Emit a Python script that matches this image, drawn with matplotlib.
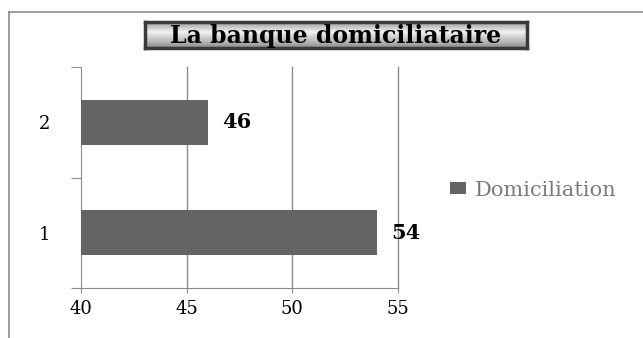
import numpy as np
import matplotlib.pyplot as plt
from matplotlib.lines import Line2D

# données du graphique
categories = ["1", "2"]
domiciliation = [54, 46]
graduations = [40, 45, 50, 55]
titre = "La banque domiciliataire"
serie = "Domiciliation"

gris_barre = "#646464"
gris_trait = "#8c8c8c"

plt.rcParams["font.family"] = ["DejaVu Serif"]

fig = plt.figure(figsize=(6.43, 3.38), dpi=100)
fig.patch.set_facecolor("white")

# cadre de la zone de graphique (haut et gauche)
fig.add_artist(Line2D([9 / 643, 1], [1 - 12 / 338, 1 - 12 / 338],
                      transform=fig.transFigure, color=gris_trait, lw=1.2))
fig.add_artist(Line2D([9 / 643, 9 / 643], [0, 1 - 12 / 338],
                      transform=fig.transFigure, color=gris_trait, lw=1.2))

ax = fig.add_axes([81 / 643, 50 / 338, 317 / 643, 221 / 338])
pos = np.arange(len(categories))
barres = ax.barh(pos, domiciliation, height=0.41, color=gris_barre,
                 label=serie, zorder=3)

ax.set_xlim(graduations[0], graduations[-1])
ax.set_ylim(-0.5, len(categories) - 0.5)
ax.set_xticks(graduations)
ax.set_xticklabels([str(g) for g in graduations], fontsize=13)
ax.tick_params(axis="x", length=3.6, color=gris_trait, pad=5)

# traits de séparation entre catégories, étiquettes au centre
ax.set_yticks(np.arange(-0.5, len(categories), 1.0))
ax.set_yticklabels([])
ax.tick_params(axis="y", which="major", length=7, color=gris_trait)
ax.set_yticks(pos, minor=True)
ax.set_yticklabels(categories, minor=True, fontsize=13)
ax.tick_params(axis="y", which="minor", length=0, pad=22)

# quadrillage vertical, y compris le trait à 55
for g in graduations[1:]:
    ax.axvline(g, color=gris_trait, lw=1, zorder=0, clip_on=False)
for cote in ["top", "right"]:
    ax.spines[cote].set_visible(False)
for cote in ["left", "bottom"]:
    ax.spines[cote].set_color(gris_trait)

for b, v in zip(barres, domiciliation):
    ax.annotate(str(v), (v, b.get_y() + b.get_height() / 2),
                xytext=(10, 0), textcoords="offset points",
                ha="left", va="center", fontsize=15, fontweight="bold",
                color="black", annotation_clip=False)

# légende à droite
fig.legend(handles=[barres], labels=[serie], loc="center left",
           bbox_to_anchor=(450 / 643, 1 - 190 / 338), frameon=False,
           fontsize=15, labelcolor="#7a7a7a", borderpad=0, borderaxespad=0,
           handlelength=0.75, handleheight=0.45, handletextpad=0.45)

# cartouche du titre avec dégradé métallique
axt = fig.add_axes([145 / 643, 1 - 48 / 338, 382 / 643, 26 / 338])
degrade = np.concatenate([np.linspace(0.62, 0.93, 10),
                          np.linspace(0.93, 0.75, 8),
                          np.linspace(0.75, 0.55, 8)])
axt.imshow(degrade[:, None], cmap="gray", vmin=0, vmax=1, aspect="auto",
           extent=[0, 1, 0, 1])
axt.set_xlim(0, 1)
axt.set_ylim(0, 1)
axt.set_xticks([])
axt.set_yticks([])
for cote in axt.spines.values():
    cote.set_color("#3a3a3a")
    cote.set_linewidth(2.5)
axt.text(0.5, 0.45, titre, ha="center", va="center", fontsize=17,
         fontweight="bold", color="black")

fig.savefig("out.png", dpi=100)
